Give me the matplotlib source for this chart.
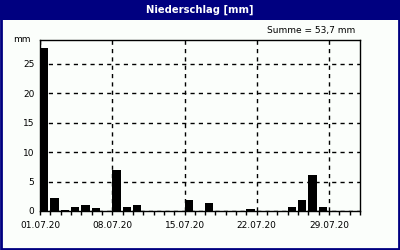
import numpy as np
import pandas as pd
import matplotlib
matplotlib.use("Agg")
import matplotlib.pyplot as plt
import matplotlib.dates as mdates
from matplotlib.patches import Rectangle

# daily precipitation, July 2020 (mm)
days = pd.date_range("2020-07-01", "2020-07-31", freq="D")
rain = [27.7, 2.2, 0.2, 0.7, 1.0, 0.5, 0.0, 7.0, 0.7, 1.0,
        0.0, 0.0, 0.0, 0.0, 1.8, 0.0, 1.3, 0.0, 0.0, 0.0,
        0.3, 0.0, 0.0, 0.0, 0.7, 1.8, 6.1, 0.7, 0.0, 0.0, 0.0]
yticks = [0, 5, 10, 15, 20, 25]
xtick_days = ["2020-07-01", "2020-07-08", "2020-07-15", "2020-07-22", "2020-07-29"]
title = "Niederschlag [mm]"
total_text = "Summe = 53,7 mm"

navy = "#000080"
bg = "#fbfefb"

plt.rcParams["font.family"] = ["DejaVu Sans"]
fig = plt.figure(figsize=(4, 2.5), dpi=100, facecolor=bg)

# title band + frame
fig.patches.append(Rectangle((0, 0.92), 1, 0.08, transform=fig.transFigure,
                             facecolor=navy, edgecolor="none", zorder=0))
fig.patches.append(Rectangle((0.002, 0.004), 0.996, 0.99, transform=fig.transFigure,
                             facecolor="none", edgecolor=navy, lw=2, zorder=5))
fig.text(0.5, 0.96, title, color="white", fontsize=7.2, fontweight="bold",
         ha="center", va="center")
fig.text(0.888, 0.878, total_text, fontsize=6.5, ha="right", va="center")

ax = fig.add_axes([0.1, 0.156, 0.8, 0.684])
ax.set_facecolor(bg)
ax.bar(days, rain, width=0.8, align="edge", color="black", zorder=3)

ax.set_xlim(pd.Timestamp("2020-07-01"), pd.Timestamp("2020-08-01"))
ax.set_ylim(0, 29)
ax.set_yticks(yticks)
ax.set_xticks(pd.to_datetime(xtick_days))
ax.xaxis.set_major_formatter(mdates.DateFormatter("%d.%m.%y"))
ax.xaxis.set_minor_locator(mdates.DayLocator())
ax.tick_params(axis="x", which="both", length=3, width=1, labelsize=6.5, pad=4)
ax.tick_params(axis="y", length=0, labelsize=6.5, pad=4)
ax.grid(True, which="major", color="black", ls=(0, (3, 3)), lw=1, zorder=1)
for s in ax.spines.values():
    s.set_linewidth(1)
ax.text(-0.03, 1.0, "mm", transform=ax.transAxes, fontsize=6.5,
        ha="right", va="center")

fig.savefig("out.png", dpi=100, facecolor=bg)
